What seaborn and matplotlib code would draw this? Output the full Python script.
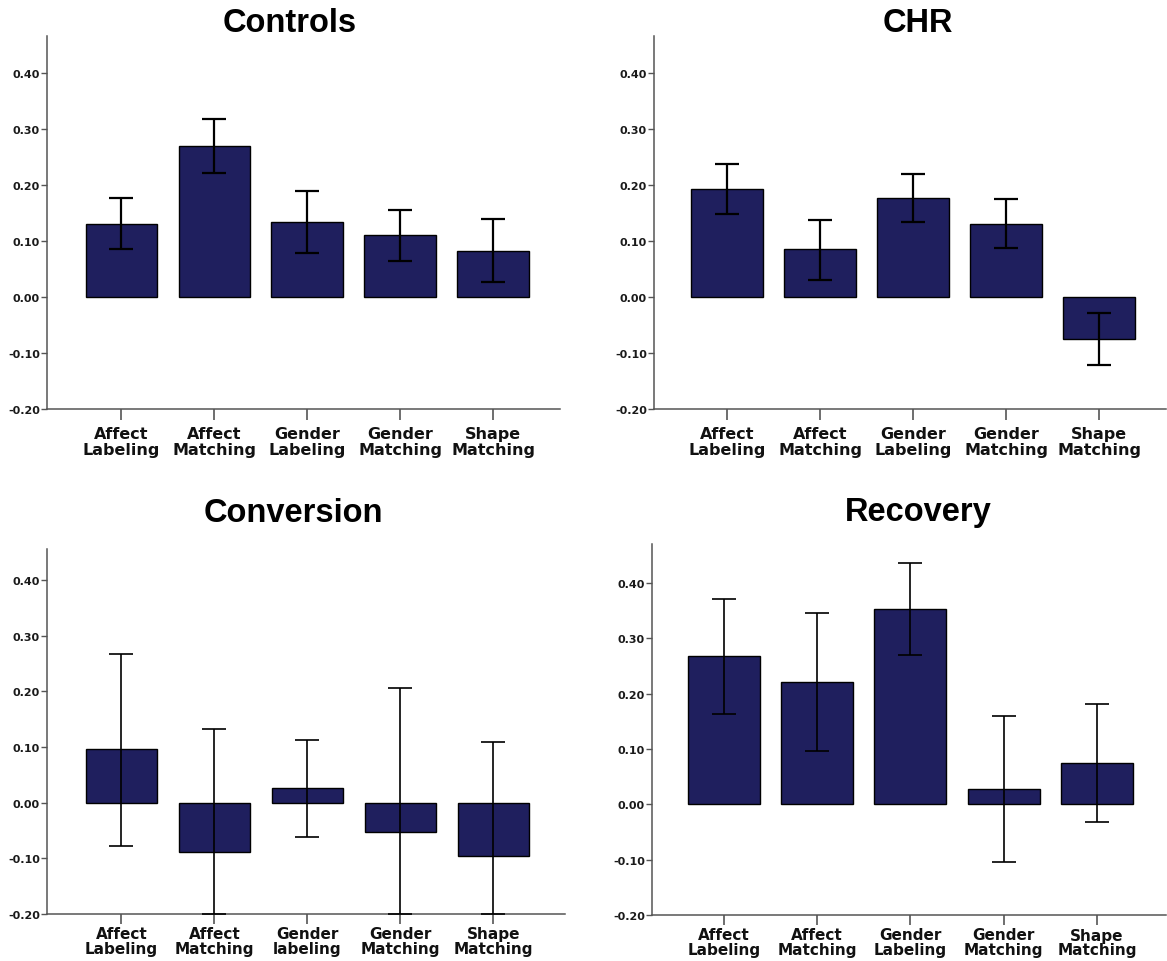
import matplotlib
matplotlib.use("Agg")
import matplotlib.pyplot as plt
import seaborn as sns
import pandas as pd
import numpy as np

sns.set_style("white")
plt.rcParams['font.family'] = ['DejaVu Sans']
plt.rcParams['axes.unicode_minus'] = False

# ---------------- data ----------------
cats_std = ["Affect\nLabeling", "Affect\nMatching", "Gender\nLabeling", "Gender\nMatching", "Shape\nMatching"]
cats_conv = ["Affect\nLabeling", "Affect\nMatching", "Gender\nlabeling", "Gender\nMatching", "Shape\nMatching"]

controls_mean = [0.130, 0.270, 0.134, 0.110, 0.083]
controls_lo = [0.085, 0.222, 0.079, 0.064, 0.027]
controls_hi = [0.177, 0.317, 0.189, 0.155, 0.140]

chr_mean = [0.193, 0.085, 0.177, 0.131, -0.075]
chr_lo = [0.148, 0.031, 0.134, 0.088, -0.121]
chr_hi = [0.237, 0.138, 0.219, 0.175, -0.028]

conv_mean = [0.097, -0.088, 0.026, -0.053, -0.095]
conv_lo = [-0.077, -0.200, -0.062, -0.200, -0.200]
conv_hi = [0.267, 0.132, 0.112, 0.206, 0.110]

rec_mean = [0.268, 0.221, 0.353, 0.027, 0.075]
rec_lo = [0.163, 0.097, 0.270, -0.104, -0.032]
rec_hi = [0.371, 0.345, 0.435, 0.160, 0.181]

yticks = [-0.20, -0.10, 0.00, 0.10, 0.20, 0.30, 0.40]
ytick_labels = ["-0.20", "-0.10", "0.00", "0.10", "0.20", "0.30", "0.40"]

BAR = "#1f1f5e"
SPINE = "#555555"

W, H = 1167, 962
fig = plt.figure(figsize=(W / 100, H / 100), dpi=100)

panels = [
    # title, cats, mean, lo, hi, (left,right,bottom,top px), xlim, ytop, title pos px, err lw, xlabel style
    ("Controls", cats_std, controls_mean, controls_lo, controls_hi, (47, 560, 410, 37), (-0.8, 4.72), 0.466, (290, 24), 1.6, (11.5, 1.15, 4, 8)),
    ("CHR", cats_std, chr_mean, chr_lo, chr_hi, (654, 1166, 410, 37), (-0.785, 4.72), 0.466, (918, 24), 1.6, (11.5, 1.15, 4, 8)),
    ("Conversion", cats_conv, conv_mean, conv_lo, conv_hi, (47, 565, 915, 550), (-0.8, 4.77), 0.456, (293, 513), 1.2, (11, 0.95, 2, 7)),
    ("Recovery", cats_std, rec_mean, rec_lo, rec_hi, (652, 1166, 916, 545), (-0.77, 4.74), 0.470, (918, 513), 1.2, (11, 0.95, 2, 7)),
]

for title, cats, mean, lo, hi, (l, r, b, t), xlim, ytop, (tx, ty), elw, (xfs, xls, xpad, xlen) in panels:
    ax = fig.add_axes([l / W, 1 - b / H, (r - l) / W, (b - t) / H])
    df = pd.DataFrame({"cat": cats, "val": mean})
    sns.barplot(data=df, x="cat", y="val", ax=ax, color=BAR, saturation=1,
                width=0.77, edgecolor="black", linewidth=1.0, errorbar=None)
    m = np.array(mean)
    ax.errorbar(np.arange(len(cats)), m, yerr=[m - np.array(lo), np.array(hi) - m],
                fmt="none", ecolor="black", elinewidth=elw, capsize=8.3, capthick=elw, zorder=5)
    ax.set_xlim(*xlim)
    ax.set_ylim(-0.2, ytop)
    ax.set_yticks(yticks)
    ax.set_yticklabels(ytick_labels)
    ax.set_xlabel("")
    ax.set_ylabel("")
    for s in ["top", "right"]:
        ax.spines[s].set_visible(False)
    for s in ["left", "bottom"]:
        ax.spines[s].set_color(SPINE)
        ax.spines[s].set_linewidth(1.1)
    ax.tick_params(axis="y", direction="out", length=4, width=1.0, color=SPINE,
                   labelsize=8, pad=1, left=True)
    ax.tick_params(axis="x", direction="out", length=xlen, width=1.2, color=SPINE,
                   labelsize=xfs, pad=xpad, bottom=True)
    for lab in ax.get_yticklabels():
        lab.set_fontweight("bold")
        lab.set_color("#1a1a1a")
    for lab in ax.get_xticklabels():
        lab.set_fontweight("bold")
        lab.set_color("#111111")
        lab.set_linespacing(xls)
    fig.text(tx / W, 1 - ty / H, title, ha="center", va="center", color="black",
             fontsize=23.5, fontweight="bold", family="Liberation Sans")

fig.savefig("out.png", dpi=100, facecolor="white")
